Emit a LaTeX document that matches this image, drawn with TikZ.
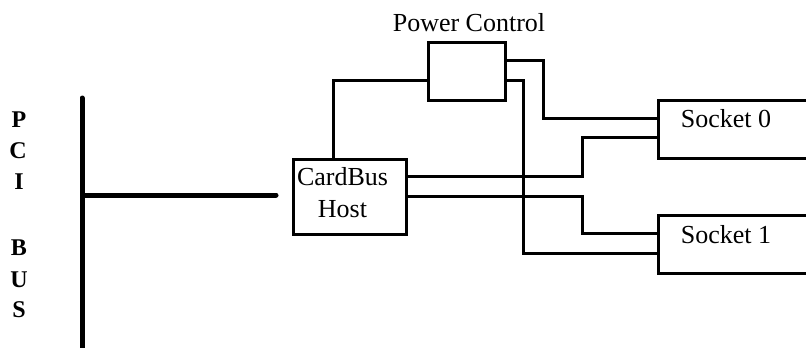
\documentclass[tikz,border=0pt]{standalone}
\usepackage{fontspec}
\setmainfont{Liberation Serif}
\begin{document}
\begin{tikzpicture}[x=1pt,y=-1pt,
  box/.style={draw,line width=3pt,rectangle,inner sep=0pt,anchor=north west},
  wire/.style={line width=3pt},
  bus/.style={line width=5pt,line cap=round},
  lbl/.style={inner sep=0pt,font=\fontsize{26}{32}\selectfont},
  buslbl/.style={inner sep=0pt,font=\fontsize{24}{28}\selectfont\bfseries}]
\clip (0,0) rectangle (806,348);
\useasboundingbox (0,0) rectangle (806,348);
\fill[white] (0,0) rectangle (806,348);
% PCI bus
\coordinate (bustop) at (82,98);
\coordinate (busbot) at (82,352);
\coordinate (busj) at (84,195);
\coordinate (busend) at (276,195);
\draw[bus] (bustop) -- (busbot);
\draw[bus] (busj) -- (busend);
\node[buslbl] (lp) at (19,120) {P};
\node[buslbl] (lc) at (18,151) {C};
\node[buslbl] (li) at (19,182) {I};
\node[buslbl] (lb) at (19,248) {B};
\node[buslbl] (lu) at (19,280) {U};
\node[buslbl] (ls) at (19,310) {S};
% boxes
\node[box,minimum width=113pt,minimum height=75pt] (host) at (292,158) {};
\node[lbl,align=center] (hosttxt) at (342.5,193) {CardBus\\Host};
\node[box,minimum width=77pt,minimum height=58pt] (pc) at (427,41) {};
\node[lbl] (pctxt) at (469,23) {Power Control};
\node[box,minimum width=160pt,minimum height=58pt] (s0) at (657,99) {};
\node[lbl] (s0txt) at (726,119) {Socket 0};
\node[box,minimum width=160pt,minimum height=58pt] (s1) at (657,214) {};
\node[lbl] (s1txt) at (726,235) {Socket 1};
% wires
\draw[wire] ([xshift=-16.5pt]host.north) |- (pc.west |- 0,80);
\draw[wire] (pc.east |- 0,60) -| (543,118) -- (s0.west |- 0,118);
\draw[wire] (pc.east |- 0,80) -| (523,253) -- (s1.west |- 0,253);
\draw[wire] (host.east |- 0,176) -| (582,137) -- (s0.west |- 0,137);
\draw[wire] (host.east |- 0,196) -| (582,233) -- (s1.west |- 0,233);
\end{tikzpicture}
\end{document}
